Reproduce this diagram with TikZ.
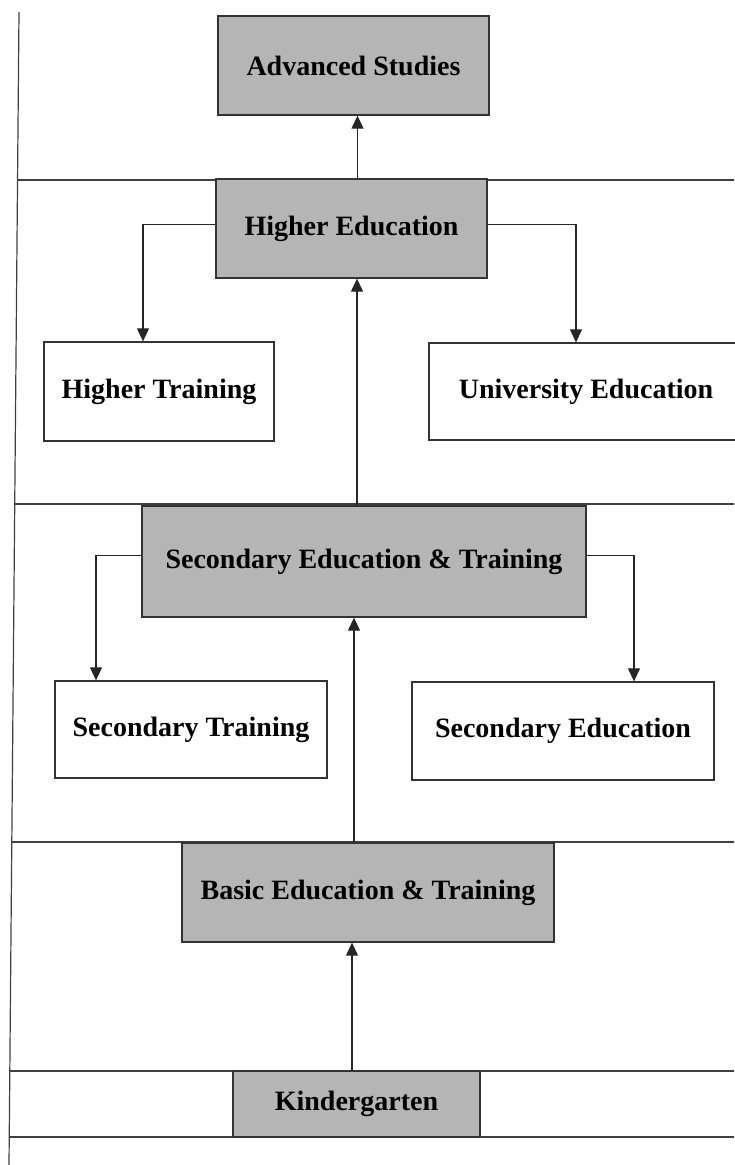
\documentclass[tikz,border=0pt]{standalone}
\usepackage{fontspec}
\setmainfont{Liberation Serif}
\usetikzlibrary{arrows.meta}
\definecolor{boxgray}{gray}{0.71}

\begin{document}
\begin{tikzpicture}[x=1pt, y=-1pt,
  rule/.style={draw=black!75, line width=1.2pt},
  level/.style={draw=black!80, line width=1.3pt, fill=boxgray, inner sep=0pt,
    font=\bfseries\fontsize{28}{32}\selectfont},
  track/.style={level, fill=white},
  arr/.style={draw=black!85, line width=1.1pt, -{Triangle[length=13pt,width=12pt]}}]
\useasboundingbox (0,0) rectangle (734,1165);
% frame of the levels
\draw[rule] (19,12) -- (9,1165);
\foreach \y/\x in {180/17.5,504/14.7,842/11.8,1071/9.8,1137/9.2} {
  \draw[rule] (\x,\y) -- (734,\y);
}
\node[level, minimum width=271pt, minimum height=99pt] (adv) at (353.5,65.5) {Advanced Studies};
\node[level, minimum width=271pt, minimum height=99pt] (higher) at (351.5,228.5) {Higher Education};
\node[track, minimum width=230pt, minimum height=99pt] (htrain) at (159,391.5) {Higher Training};
\node[track, minimum width=314pt, minimum height=97pt] (univ) at (586,391.5) {University Education};
\node[level, minimum width=444pt, minimum height=111pt] (secet) at (364,561.5) {Secondary Education \& Training};
\node[track, minimum width=272pt, minimum height=97pt] (strain) at (191,729.5) {Secondary Training};
\node[track, minimum width=302pt, minimum height=98pt] (sedu) at (563,731) {Secondary Education};
\node[level, minimum width=372pt, minimum height=99pt] (basic) at (368,892.5) {Basic Education \& Training};
\node[level, minimum width=247pt, minimum height=66pt] (kinder) at (356.5,1104) {Kindergarten};
% upward path
\draw[arr] ([xshift=6pt]higher.north) -- ([xshift=6pt]higher.north |- adv.south);
\draw[arr] ([xshift=-7pt]secet.north) -- ([xshift=-7pt]secet.north |- higher.south);
\draw[arr] ([xshift=-14pt]basic.north) -- ([xshift=-14pt]basic.north |- secet.south);
\draw[arr] ([xshift=-4.5pt]kinder.north) -- ([xshift=-4.5pt]kinder.north |- basic.south);
% branches
\draw[arr] ([yshift=4pt]higher.west) -| ([xshift=-16pt]htrain.north);
\draw[arr] ([yshift=4pt]higher.east) -| ([xshift=-10pt]univ.north);
\draw[arr] ([yshift=6pt]secet.west) -| ([xshift=-95pt]strain.north);
\draw[arr] ([yshift=6pt]secet.east) -| ([xshift=71pt]sedu.north);
\end{tikzpicture}
\end{document}
